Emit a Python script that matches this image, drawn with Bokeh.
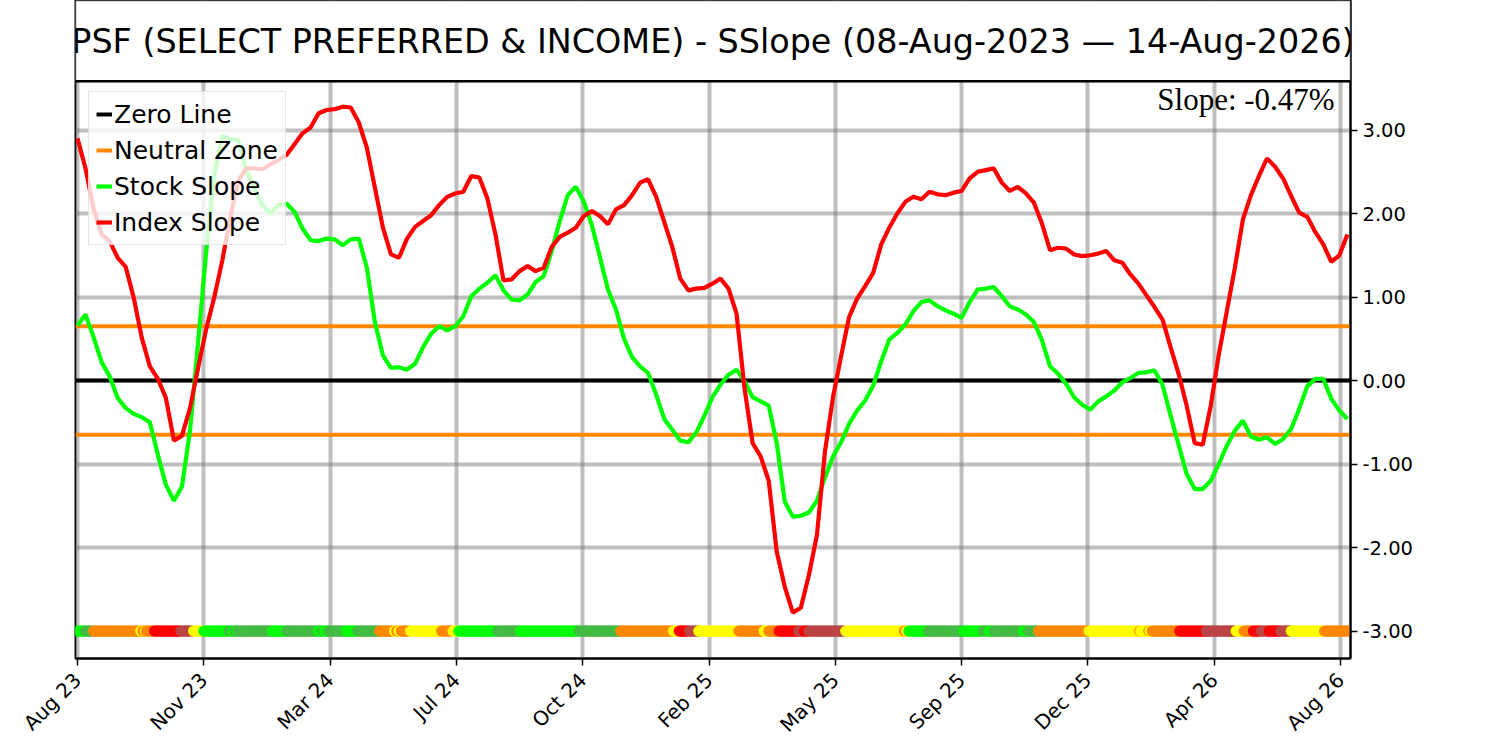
import math
from bokeh.plotting import figure
from bokeh.models import (FixedTicker, NumeralTickFormatter, Legend, LegendItem,
                          BoxAnnotation, Label, Range1d, Span)
from bokeh.embed import file_html
from bokeh.resources import INLINE

# ---------------- data ----------------
title_text = "PSF (SELECT PREFERRED & INCOME) - SSlope (08-Aug-2023 \u2014 14-Aug-2026)"
slope_text = "Slope: -0.47%"

# one sample every 7 days, counted in days from 08-Aug-2023
step_days = 7

index_slope = [
    2.90, 2.54, 2.06, 1.75, 1.67, 1.47, 1.36, 0.99, 0.51, 0.17,
    0.02, -0.21, -0.72, -0.66, -0.33, 0.15, 0.61, 0.99, 1.43, 1.95,
    2.39, 2.54, 2.54, 2.53, 2.59, 2.64, 2.70, 2.83, 2.96, 3.03,
    3.20, 3.24, 3.25, 3.28, 3.27, 3.09, 2.79, 2.31, 1.83, 1.51,
    1.47, 1.70, 1.84, 1.91, 1.98, 2.10, 2.20, 2.24, 2.26, 2.45,
    2.43, 2.18, 1.75, 1.20, 1.21, 1.31, 1.37, 1.31, 1.35, 1.60,
    1.72, 1.77, 1.83, 1.97, 2.03, 1.97, 1.87, 2.05, 2.10, 2.22,
    2.37, 2.41, 2.20, 1.90, 1.60, 1.22, 1.08, 1.10, 1.11, 1.16,
    1.22, 1.10, 0.80, -0.10, -0.75, -0.91, -1.20, -2.05, -2.47, -2.78,
    -2.72, -2.33, -1.85, -0.85, -0.20, 0.29, 0.76, 0.98, 1.13, 1.29,
    1.63, 1.83, 2.00, 2.14, 2.20, 2.17, 2.26, 2.23, 2.22, 2.25,
    2.27, 2.42, 2.50, 2.52, 2.54, 2.37, 2.27, 2.32, 2.24, 2.13,
    1.88, 1.56, 1.59, 1.58, 1.51, 1.49, 1.50, 1.52, 1.55, 1.44,
    1.41, 1.27, 1.16, 1.02, 0.88, 0.73, 0.40, 0.08, -0.30, -0.75,
    -0.77, -0.30, 0.31, 0.83, 1.35, 1.93, 2.22, 2.45, 2.66, 2.56,
    2.42, 2.21, 2.01, 1.96, 1.78, 1.63, 1.42, 1.50, 1.75,
]

stock_slope = [
    0.66, 0.79, 0.52, 0.22, 0.05, -0.21, -0.33, -0.40, -0.44, -0.50,
    -0.89, -1.25, -1.44, -1.27, -0.60, 0.45, 1.53, 2.45, 2.93, 2.89,
    2.88, 2.52, 2.30, 2.10, 2.00, 2.10, 2.12, 2.02, 1.82, 1.68,
    1.67, 1.70, 1.69, 1.62, 1.69, 1.70, 1.35, 0.70, 0.30, 0.15,
    0.16, 0.13, 0.20, 0.40, 0.56, 0.65, 0.60, 0.65, 0.77, 1.01,
    1.10, 1.17, 1.26, 1.08, 0.97, 0.96, 1.03, 1.18, 1.25, 1.55,
    1.91, 2.22, 2.32, 2.14, 1.86, 1.48, 1.09, 0.85, 0.50, 0.28,
    0.17, 0.09, -0.17, -0.46, -0.59, -0.72, -0.74, -0.62, -0.42, -0.20,
    -0.05, 0.07, 0.13, -0.01, -0.20, -0.25, -0.30, -0.75, -1.45, -1.63,
    -1.62, -1.58, -1.44, -1.16, -0.91, -0.74, -0.52, -0.36, -0.24, -0.06,
    0.23, 0.49, 0.57, 0.67, 0.83, 0.94, 0.96, 0.89, 0.84, 0.80,
    0.75, 0.94, 1.09, 1.10, 1.12, 1.01, 0.89, 0.85, 0.79, 0.70,
    0.48, 0.17, 0.08, -0.04, -0.20, -0.29, -0.35, -0.25, -0.19, -0.12,
    -0.02, 0.03, 0.09, 0.10, 0.12, -0.05, -0.42, -0.77, -1.12, -1.30,
    -1.30, -1.20, -1.00, -0.78, -0.60, -0.48, -0.67, -0.71, -0.68, -0.76,
    -0.70, -0.58, -0.34, -0.07, 0.02, 0.02, -0.22, -0.36, -0.46,
]

neutral_zone = 0.65
signal_level = -3.0

# daily signal colour, run-length coded: first day of each run and its code
signal_run_start = [
    0, 7, 14, 55, 57, 59, 60, 67, 90, 101, 110, 132, 135, 137, 139, 140,
    170, 182, 210, 213, 215, 219, 234, 244, 263, 276, 278, 280, 282, 290,
    317, 327, 332, 366, 386, 437, 473, 519, 524, 533, 541, 576, 598, 602,
    611, 628, 633, 637, 669, 720, 722, 724, 741, 772, 789, 794, 798, 824,
    828, 837, 881, 925, 926, 933, 934, 936, 960, 983, 1009, 1016, 1024,
    1031, 1038, 1048, 1057, 1086,
]
signal_run_code = [
    "G", "D", "O", "Y", "O", "Y", "O", "R", "B", "Y", "G", "D", "G", "D", "G", "D",
    "G", "D", "G", "D", "G", "D", "G", "D", "O", "Y", "O", "Y", "O", "Y",
    "O", "Y", "G", "D", "G", "D", "O", "Y", "R", "B", "Y", "O", "Y", "O",
    "R", "B", "R", "B", "Y", "O", "Y", "G", "D", "G", "D", "G", "D", "G",
    "D", "O", "Y", "O", "Y", "O", "Y", "O", "R", "B", "Y", "O", "R",
    "B", "R", "B", "Y", "O",
]
signal_last_day = 1107
signal_colors = {"G": "#00ff00", "D": "#44bb44", "O": "#ff8800",
                 "Y": "#ffff00", "R": "#ff0000", "B": "#bb4444"}

tick_days = [0, 110, 220, 330, 440, 550, 660, 770, 880, 990, 1100]
tick_labels = ["Aug 23", "Nov 23", "Mar 24", "Jul 24", "Oct 24", "Feb 25",
               "May 25", "Sep 25", "Dec 25", "Apr 26", "Aug 26"]
y_ticks = [-3, -2, -1, 0, 1, 2, 3]

# ---------------- layout constants ----------------
x_start, x_end = -1.74, 1108.7
y_start, y_end = -3.329, 4.551
title_box_bottom = 3.585
title_y = 4.06
slope_x, slope_y = 1094.9, 3.364

FONT = "DejaVu Sans"

days = [i * step_days for i in range(len(index_slope))]

dot_x, dot_c = [], []
bounds = signal_run_start + [signal_last_day + 1]
for i, code in enumerate(signal_run_code):
    for d in range(bounds[i], bounds[i + 1]):
        dot_x.append(d)
        dot_c.append(signal_colors[code])
dot_y = [signal_level] * len(dot_x)

p = figure(frame_width=1275, frame_height=658,
           x_range=Range1d(x_start, x_end), y_range=Range1d(y_start, y_end),
           y_axis_location="right", toolbar_location=None, output_backend="svg",
           min_border_left=75, min_border_top=0, min_border_right=10,
           title=None)
p.background_fill_color = "white"
p.border_fill_color = "white"
p.outline_line_color = "black"
p.outline_line_width = 2

# grid
p.grid.grid_line_color = "gray"
p.grid.grid_line_alpha = 0.5
p.grid.grid_line_width = 4

# axes
p.xaxis.ticker = FixedTicker(ticks=tick_days)
p.xaxis.major_label_overrides = {d: lab for d, lab in zip(tick_days, tick_labels)}
p.xaxis.major_label_orientation = math.pi / 4
p.yaxis.ticker = FixedTicker(ticks=y_ticks)
p.yaxis.formatter = NumeralTickFormatter(format="0.00")
for ax in (p.xaxis[0], p.yaxis[0]):
    ax.major_label_text_font = FONT
    ax.major_label_text_color = "black"
    ax.axis_line_color = "black"
    ax.axis_line_width = 2
    ax.major_tick_line_color = "black"
    ax.major_tick_line_width = 1.5
    ax.major_tick_out = 7
    ax.major_tick_in = 0
    ax.minor_tick_line_color = None
p.xaxis.major_label_text_font_size = "20px"
p.xaxis.major_label_standoff = 11
p.yaxis.major_label_text_font_size = "19.5px"
p.yaxis.major_label_standoff = 5

xs_line = [x_start, x_end]
r_zero = p.line(xs_line, [0, 0], line_color="black", line_width=4)
r_neu1 = p.line(xs_line, [neutral_zone, neutral_zone], line_color="#ff8800", line_width=4)
p.line(xs_line, [-neutral_zone, -neutral_zone], line_color="#ff8800", line_width=4)
r_stock = p.line(days, stock_slope, line_color="#00ff00", line_width=4.2)
r_index = p.line(days, index_slope, line_color="#ff0000", line_width=4.2)
p.scatter(dot_x, dot_y, size=11, fill_color=dot_c, line_color=None)

box = BoxAnnotation(bottom=title_box_bottom, fill_color="white", fill_alpha=1.0,
                    line_color="black", line_width=2)
p.add_layout(box)
p.add_layout(Span(location=title_box_bottom, dimension="width",
                  line_color="black", line_width=2.5))
p.add_layout(Label(x=(x_start + x_end) / 2, y=title_y, text=title_text,
                   text_align="center", text_baseline="alphabetic",
                   text_font=FONT, text_font_size="33.4px", text_color="black"))
p.add_layout(Label(x=slope_x, y=slope_y, text=slope_text,
                   text_align="right", text_baseline="alphabetic",
                   text_font="Liberation Serif", text_font_size="31px",
                   text_color="black"))

legend = Legend(items=[LegendItem(label="Zero Line", renderers=[r_zero]),
                       LegendItem(label="Neutral Zone", renderers=[r_neu1]),
                       LegendItem(label="Stock Slope", renderers=[r_stock]),
                       LegendItem(label="Index Slope", renderers=[r_index])],
                location=(13, 413))
legend.label_text_font = FONT
legend.label_text_font_size = "25px"
legend.label_text_color = "black"
legend.glyph_width = 16
legend.glyph_height = 30
legend.label_height = 30
legend.label_standoff = 2
legend.spacing = 6
legend.padding = 7
legend.margin = 0
legend.border_line_color = "#cccccc"
legend.border_line_width = 1.5
legend.background_fill_alpha = 0.8
p.add_layout(legend)

open("out.html", "w").write(file_html(p, INLINE))
